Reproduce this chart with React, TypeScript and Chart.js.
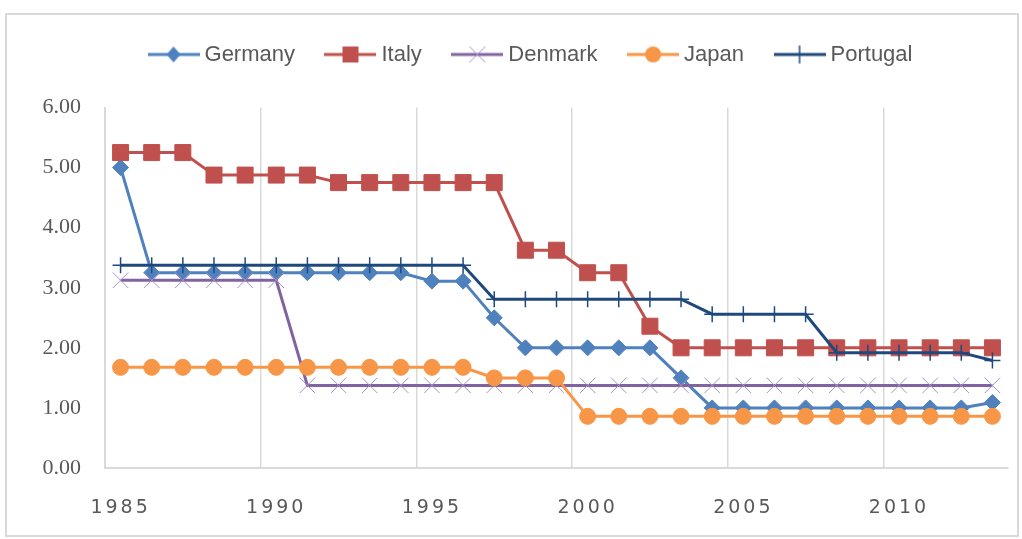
import { useEffect, useRef } from 'react';
import { Chart, registerables } from 'chart.js';

Chart.register(...registerables);

const years = [
  '1985', '1986', '1987', '1988', '1989', '1990', '1991', '1992', '1993', '1994',
  '1995', '1996', '1997', '1998', '1999', '2000', '2001', '2002', '2003', '2004',
  '2005', '2006', '2007', '2008', '2009', '2010', '2011', '2012', '2013',
];
const tickYears = ['1985', '1990', '1995', '2000', '2005', '2010'];
const yTicks = [0, 1, 2, 3, 4, 5, 6];

const germany = [
  5.0, 3.25, 3.25, 3.25, 3.25, 3.25, 3.25, 3.25, 3.25, 3.25,
  3.11, 3.11, 2.5, 2.0, 2.0, 2.0, 2.0, 2.0, 1.5, 1.0,
  1.0, 1.0, 1.0, 1.0, 1.0, 1.0, 1.0, 1.0, 1.09,
];
const italy = [
  5.25, 5.25, 5.25, 4.875, 4.875, 4.875, 4.875, 4.75, 4.75, 4.75,
  4.75, 4.75, 4.75, 3.625, 3.625, 3.25, 3.25, 2.36, 2.0, 2.0,
  2.0, 2.0, 2.0, 2.0, 2.0, 2.0, 2.0, 2.0, 2.0,
];
const denmark = [
  3.125, 3.125, 3.125, 3.125, 3.125, 3.125, 1.375, 1.375, 1.375, 1.375,
  1.375, 1.375, 1.375, 1.375, 1.375, 1.375, 1.375, 1.375, 1.375, 1.375,
  1.375, 1.375, 1.375, 1.375, 1.375, 1.375, 1.375, 1.375, 1.375,
];
const japan = [
  1.675, 1.675, 1.675, 1.675, 1.675, 1.675, 1.675, 1.675, 1.675, 1.675,
  1.675, 1.675, 1.5, 1.5, 1.5, 0.86, 0.86, 0.86, 0.86, 0.86,
  0.86, 0.86, 0.86, 0.86, 0.86, 0.86, 0.86, 0.86, 0.86,
];
const portugal = [
  3.375, 3.375, 3.375, 3.375, 3.375, 3.375, 3.375, 3.375, 3.375, 3.375,
  3.375, 3.375, 2.81, 2.81, 2.81, 2.81, 2.81, 2.81, 2.81, 2.56,
  2.56, 2.56, 2.56, 1.92, 1.92, 1.92, 1.92, 1.92, 1.79,
];

const seriesNames = ['Germany', 'Italy', 'Denmark', 'Japan', 'Portugal'];
const seriesColors = ['#4f81bd', '#c0504d', '#8064a2', '#f79646', '#1f497d'];

function makeLegendIcon(kind: string, color: string): HTMLCanvasElement {
  const c = document.createElement('canvas');
  c.width = 52;
  c.height = 20;
  const g = c.getContext('2d')!;
  g.strokeStyle = color;
  g.lineWidth = 3;
  g.beginPath();
  g.moveTo(0, 10);
  g.lineTo(52, 10);
  g.stroke();
  const cx = 26;
  const cy = 10;
  g.fillStyle = color;
  if (kind === 'diamond') {
    g.beginPath();
    g.moveTo(cx - 7, cy);
    g.lineTo(cx, cy - 8);
    g.lineTo(cx + 7, cy);
    g.lineTo(cx, cy + 8);
    g.closePath();
    g.fill();
  } else if (kind === 'square') {
    g.fillRect(cx - 8, cy - 8, 16, 16);
  } else if (kind === 'x') {
    g.strokeStyle = '#a692c8';
    g.lineWidth = 1;
    g.beginPath();
    g.moveTo(cx - 8, cy - 8);
    g.lineTo(cx + 8, cy + 8);
    g.moveTo(cx + 8, cy - 8);
    g.lineTo(cx - 8, cy + 8);
    g.stroke();
  } else if (kind === 'circle') {
    g.beginPath();
    g.arc(cx, cy, 8, 0, Math.PI * 2);
    g.fill();
  } else if (kind === 'plus') {
    g.lineWidth = 1.5;
    g.beginPath();
    g.moveTo(cx, cy - 9);
    g.lineTo(cx, cy + 9);
    g.stroke();
  }
  return c;
}

const LEGEND_EXTRA_HEIGHT = 32;
const LEGEND_SHIFT_X = 14;

const tweakPlugin = {
  id: 'tweaks',
  beforeLayout(chart: any) {
    const l: any = chart.legend;
    if (l && !l.__tweaked) {
      const f = l.fit.bind(l);
      l.fit = () => {
        f();
        l.height += LEGEND_EXTRA_HEIGHT;
      };
      l.__tweaked = true;
    }
  },
  afterLayout(chart: any) {
    const l: any = chart.legend;
    if (l) {
      l.left += LEGEND_SHIFT_X;
      l.right += LEGEND_SHIFT_X;
    }
  },
  beforeDraw(chart: any) {
    const s: any = chart.scales.x;
    if (s && !s.__spaced) {
      const orig = s.drawLabels.bind(s);
      s.drawLabels = (area: any) => {
        const ctx: any = chart.ctx;
        ctx.save();
        ctx.letterSpacing = '3px';
        orig(area);
        ctx.restore();
      };
      s.__spaced = true;
    }
  },
};

export default function App() {
  const ref = useRef<HTMLCanvasElement | null>(null);

  useEffect(() => {
    if (!ref.current) return;
    const icons = [
      makeLegendIcon('diamond', seriesColors[0]),
      makeLegendIcon('square', seriesColors[1]),
      makeLegendIcon('x', seriesColors[2]),
      makeLegendIcon('circle', seriesColors[3]),
      makeLegendIcon('plus', seriesColors[4]),
    ];
    const values = [germany, italy, denmark, japan, portugal];
    const pointStyles = ['rectRot', 'rect', 'crossRot', 'circle', 'cross'];
    const radii = [8, 11.3, 11, 8, 8];
    const pointBorders = [seriesColors[0], seriesColors[1], '#a692c8', seriesColors[3], seriesColors[4]];
    const pointBorderWidths = [1, 1, 1, 1, 1.5];

    const chart = new Chart(ref.current, {
      type: 'line',
      data: {
        labels: years,
        datasets: seriesNames.map((name, i) => ({
          label: name,
          data: values[i],
          borderColor: seriesColors[i],
          backgroundColor: seriesColors[i],
          borderWidth: 3,
          tension: 0,
          pointStyle: pointStyles[i] as any,
          pointRadius: radii[i],
          pointBackgroundColor: seriesColors[i],
          pointBorderColor: pointBorders[i],
          pointBorderWidth: pointBorderWidths[i],
          order: 5 - i,
        })),
      },
      options: {
        animation: false,
        responsive: false,
        layout: { padding: { left: 30, right: 14, top: 8, bottom: 0 } },
        plugins: {
          tooltip: { enabled: false },
          legend: {
            position: 'top',
            labels: {
              usePointStyle: true,
              pointStyleWidth: 40,
              padding: 35.5,
              color: '#595959',
              font: { family: '"Liberation Sans", Arial, sans-serif', size: 22 },
              generateLabels: () =>
                seriesNames.map((name, i) => ({
                  text: name,
                  datasetIndex: i,
                  pointStyle: icons[i],
                  fillStyle: seriesColors[i],
                  strokeStyle: seriesColors[i],
                  lineWidth: 0,
                  hidden: false,
                  fontColor: '#595959',
                })) as any,
            },
          },
        },
        scales: {
          x: {
            type: 'category',
            offset: true,
            grid: {
              offset: true,
              drawTicks: false,
              lineWidth: 1.5,
              color: (ctx: any) =>
                ctx.index !== undefined && tickYears.includes(years[ctx.index]) ? '#d9d9d9' : 'rgba(0,0,0,0)',
            },
            border: { display: true, color: '#d9d9d9', width: 2 },
            ticks: {
              autoSkip: false,
              maxRotation: 0,
              minRotation: 0,
              padding: 29,
              color: '#595959',
              font: { family: '"DejaVu Sans", sans-serif', size: 19 },
              callback: (_v: any, i: number) => (tickYears.includes(years[i]) ? years[i] : ''),
            },
            afterFit: (scale: any) => {
              scale.height = 71;
            },
          },
          y: {
            min: 0,
            max: 6,
            afterBuildTicks: (scale: any) => {
              scale.ticks = yTicks.map((v) => ({ value: v }));
            },
            grid: { display: true, drawTicks: false, color: 'rgba(0,0,0,0)' },
            border: { display: true, color: '#d9d9d9', width: 2 },
            ticks: {
              padding: 24,
              color: '#595959',
              font: { family: '"Liberation Serif", "Times New Roman", serif', size: 22 },
              callback: (v: any) => Number(v).toFixed(2),
            },
            afterFit: (scale: any) => {
              scale.width = 75;
            },
          },
        },
      },
      plugins: [tweakPlugin],
    });
    return () => chart.destroy();
  }, []);

  return (
    <div style={{ position: 'fixed', left: 0, top: 0, width: 1022, height: 539, background: '#fff' }}>
      <div
        style={{
          position: 'absolute',
          left: 5,
          top: 13,
          width: 1014,
          height: 524,
          border: '2px solid #d9d9d9',
          boxSizing: 'border-box',
        }}
      />
      <canvas ref={ref} width={1022} height={539} style={{ position: 'absolute', left: 0, top: 0 }} />
    </div>
  );
}
